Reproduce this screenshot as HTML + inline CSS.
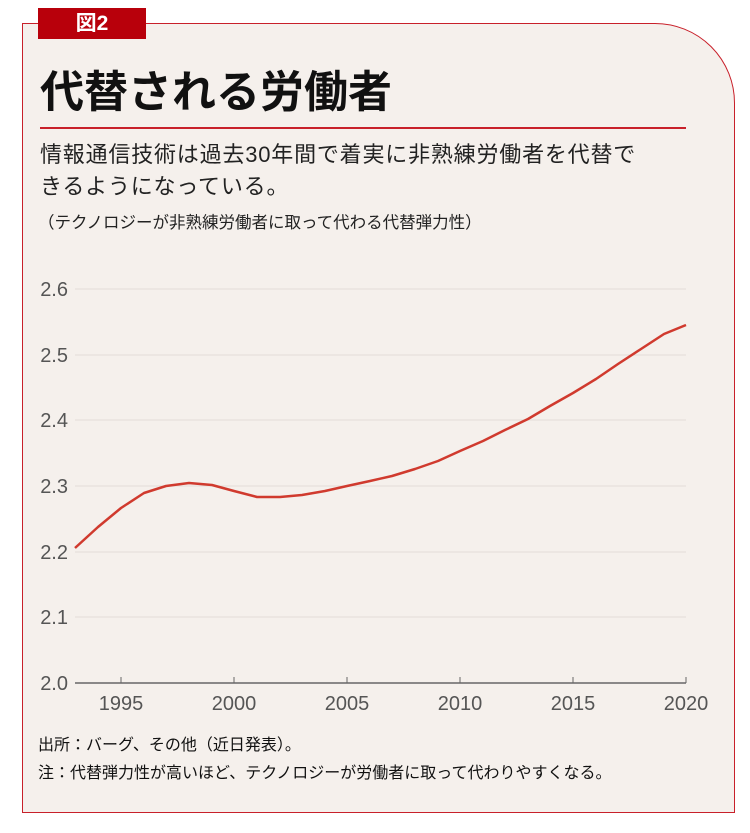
<!DOCTYPE html>
<html><head><meta charset="utf-8"><style>
body{margin:0;background:#fff;width:750px;height:833px;position:relative;overflow:hidden;font-family:"Liberation Sans","Noto Sans CJK JP",sans-serif;}
.box{position:absolute;left:22px;top:23px;width:711px;height:788px;background:#f5f0ec;border:1.5px solid #c8202a;border-top-right-radius:80px;}
.tag{position:absolute;left:38px;top:8px;width:108px;height:31px;background:#b8000b;color:#fff;font-weight:bold;font-size:21px;text-align:center;line-height:31px;}
.t{position:absolute;white-space:nowrap;color:#111;}
</style></head><body>
<div class="box"></div>
<div class="tag">図2</div>
<div class="t" style="left:40px;top:56px;font-size:44px;font-weight:bold;">代替される労働者</div>
<div style="position:absolute;left:40px;top:127px;width:646px;height:2px;background:#c8202a"></div>
<div class="t" style="left:40px;top:139px;font-size:22px;line-height:32px;color:#222;letter-spacing:0.8px">情報通信技術は過去30年間で着実に非熟練労働者を代替で<br>きるようになっている。</div>
<div class="t" style="left:38px;top:209px;font-size:16.5px;color:#222">（テクノロジーが非熟練労働者に取って代わる代替弾力性）</div>
<svg style="position:absolute;left:0;top:0" width="750" height="833">
<g stroke="#e2dcd8" stroke-width="1">
<line x1="75" x2="686" y1="289" y2="289"/><line x1="75" x2="686" y1="355" y2="355"/><line x1="75" x2="686" y1="420" y2="420"/><line x1="75" x2="686" y1="486" y2="486"/><line x1="75" x2="686" y1="552" y2="552"/><line x1="75" x2="686" y1="617" y2="617"/>
</g>
<line x1="75" x2="686" y1="683" y2="683" stroke="#666" stroke-width="1.5"/>
<g stroke="#666" stroke-width="1"><line x1="121" x2="121" y1="677" y2="683"/><line x1="234" x2="234" y1="677" y2="683"/><line x1="347" x2="347" y1="677" y2="683"/><line x1="460" x2="460" y1="677" y2="683"/><line x1="573" x2="573" y1="677" y2="683"/><line x1="686" x2="686" y1="677" y2="683"/></g>
<g font-family="Liberation Sans,sans-serif" font-size="20" fill="#555" text-anchor="end">
<text x="68" y="296">2.6</text><text x="68" y="362">2.5</text><text x="68" y="427">2.4</text><text x="68" y="493">2.3</text><text x="68" y="559">2.2</text><text x="68" y="624">2.1</text><text x="68" y="690">2.0</text>
</g>
<g font-family="Liberation Sans,sans-serif" font-size="20" fill="#555" text-anchor="middle">
<text x="121" y="710">1995</text><text x="234" y="710">2000</text><text x="347" y="710">2005</text><text x="460" y="710">2010</text><text x="573" y="710">2015</text><text x="686" y="710">2020</text>
</g>
<polyline fill="none" stroke="#d03a2e" stroke-width="2.5" stroke-linejoin="round" points="75,548 98,527 121,508 144,493 166,486 189,483 212,485 234,491 257,497 280,497 302,495 325,491 347,486 370,481 392,476 415,469 438,461 460,451 483,441 505,430 528,419 550,406 573,393 596,379 618,364 641,349 664,334 686,325"/>
</svg>
<div class="t" style="left:38px;top:731px;font-size:16px;">出所：バーグ、その他（近日発表）。</div>
<div class="t" style="left:38px;top:759px;font-size:16px;">注：代替弾力性が高いほど、テクノロジーが労働者に取って代わりやすくなる。</div>
</body></html>
